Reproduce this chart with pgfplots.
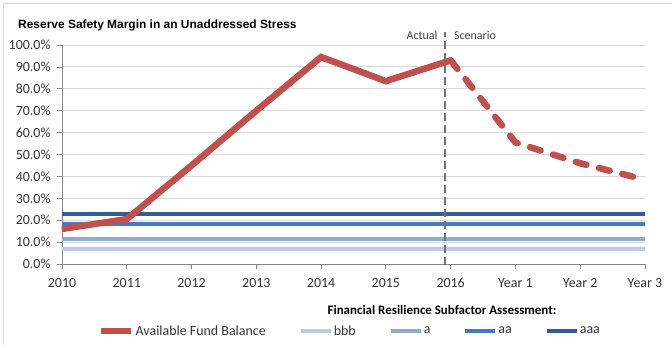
\documentclass[border=0pt]{standalone}
\usepackage{fontspec}
\setmainfont{Carlito}
\newfontfamily\titlefont{Liberation Sans}
\usepackage{pgfplots}
\pgfplotsset{compat=1.18}
\definecolor{fundred}{RGB}{192,80,77}
\definecolor{cbbb}{RGB}{190,202,228}
\definecolor{ca}{RGB}{145,170,212}
\definecolor{caa}{RGB}{72,120,196}
\definecolor{caaa}{RGB}{52,92,156}
\definecolor{gridgray}{RGB}{217,217,217}
\definecolor{axisgray}{RGB}{134,134,134}
\begin{document}
\begin{tikzpicture}
\path[use as bounding box] (0,0) rectangle (672bp,-348bp);
\draw[gridgray, line width=1bp] (3.5bp,-345bp) -- (3.5bp,-3.5bp) -- (672bp,-3.5bp);
\node[anchor=base west, font=\titlefont\bfseries\fontsize{12}{14}\selectfont, inner sep=0pt] at (18bp,-28bp) {Reserve Safety Margin in an Unaddressed Stress};
\node[font=\bfseries\fontsize{13}{15}\selectfont, inner sep=0pt] at (442bp,-310bp) {Financial Resilience Subfactor Assessment:};
\begin{axis}[
  at={(62bp,-264bp)}, anchor=south west,
  scale only axis, width=583bp, height=219bp,
  xmin=0, xmax=9, ymin=0, ymax=100,
  clip=false,
  axis x line*=bottom, axis y line*=left,
  axis line style={axisgray, line width=0.8bp},
  tick style={axisgray, line width=0.8bp},
  tick align=outside, major tick length=5bp,
  xtick={0,...,9},
  xticklabels={2010,2011,2012,2013,2014,2015,2016,Year 1,Year 2,Year 3},
  ytick={0,10,...,100},
  yticklabel={\pgfmathprintnumber[fixed,fixed zerofill,precision=1]{\tick}\%},
  /pgf/number format/assume math mode=true,
  ymajorgrids, grid style={gridgray, line width=1bp},
  tick label style={font=\fontsize{14}{16}\selectfont, text=black!80},
  xticklabel style={yshift=-6bp},
  yticklabel style={xshift=-3bp},
  legend columns=5,
  legend style={at={(0.0617,-0.306)}, anchor=west, draw=none, fill=none,
    inner sep=0pt, font=\fontsize{14}{16}\selectfont, text=black!80,
    nodes={inner xsep=1bp},
    /tikz/every even column/.append style={column sep=32bp}},
  legend cell align=left,
  legend image code/.code={\draw[#1] (0bp,0bp) -- (30bp,0bp);},
]
\addlegendimage{fundred, line width=6.5bp}
\addlegendentry{Available Fund Balance}
\addlegendimage{cbbb, line width=4bp}
\addlegendentry{bbb}
\addlegendimage{ca, line width=4bp}
\addlegendentry{a}
\addlegendimage{caa, line width=4bp}
\addlegendentry{aa}
\addlegendimage{caaa, line width=4bp}
\addlegendentry{aaa}
% rating thresholds
\addplot[cbbb, line width=4bp, forget plot] coordinates {(0,6.8) (9,6.8)};
\addplot[ca, line width=4bp, forget plot] coordinates {(0,11.4) (9,11.4)};
\addplot[caa, line width=4bp, forget plot] coordinates {(0,18.3) (9,18.3)};
\addplot[caaa, line width=4bp, forget plot] coordinates {(0,22.8) (9,22.8)};
% available fund balance
\addplot[fundred, line width=6.5bp, forget plot] coordinates {
  (0,16) (1,20.5) (2,45) (3,70) (4,94.5) (5,83.5) (6,93)};
\addplot[fundred, line width=6.5bp, line cap=round, dash pattern=on 11bp off 13bp, forget plot] coordinates {
  (6,93) (7,55.5) (8,46) (9,38.5)};
% actual / scenario divider
\addplot[black!55, line width=2bp, dash pattern=on 8bp off 4bp, forget plot] coordinates {(5.92,-0.5) (5.92,106)};
\node[anchor=east, font=\fontsize{12}{14}\selectfont, text=black!75] at (axis cs:5.85,104.2) {Actual};
\node[anchor=west, font=\fontsize{12}{14}\selectfont, text=black!75] at (axis cs:6.0,104.2) {Scenario};
\end{axis}
\end{tikzpicture}
\end{document}
